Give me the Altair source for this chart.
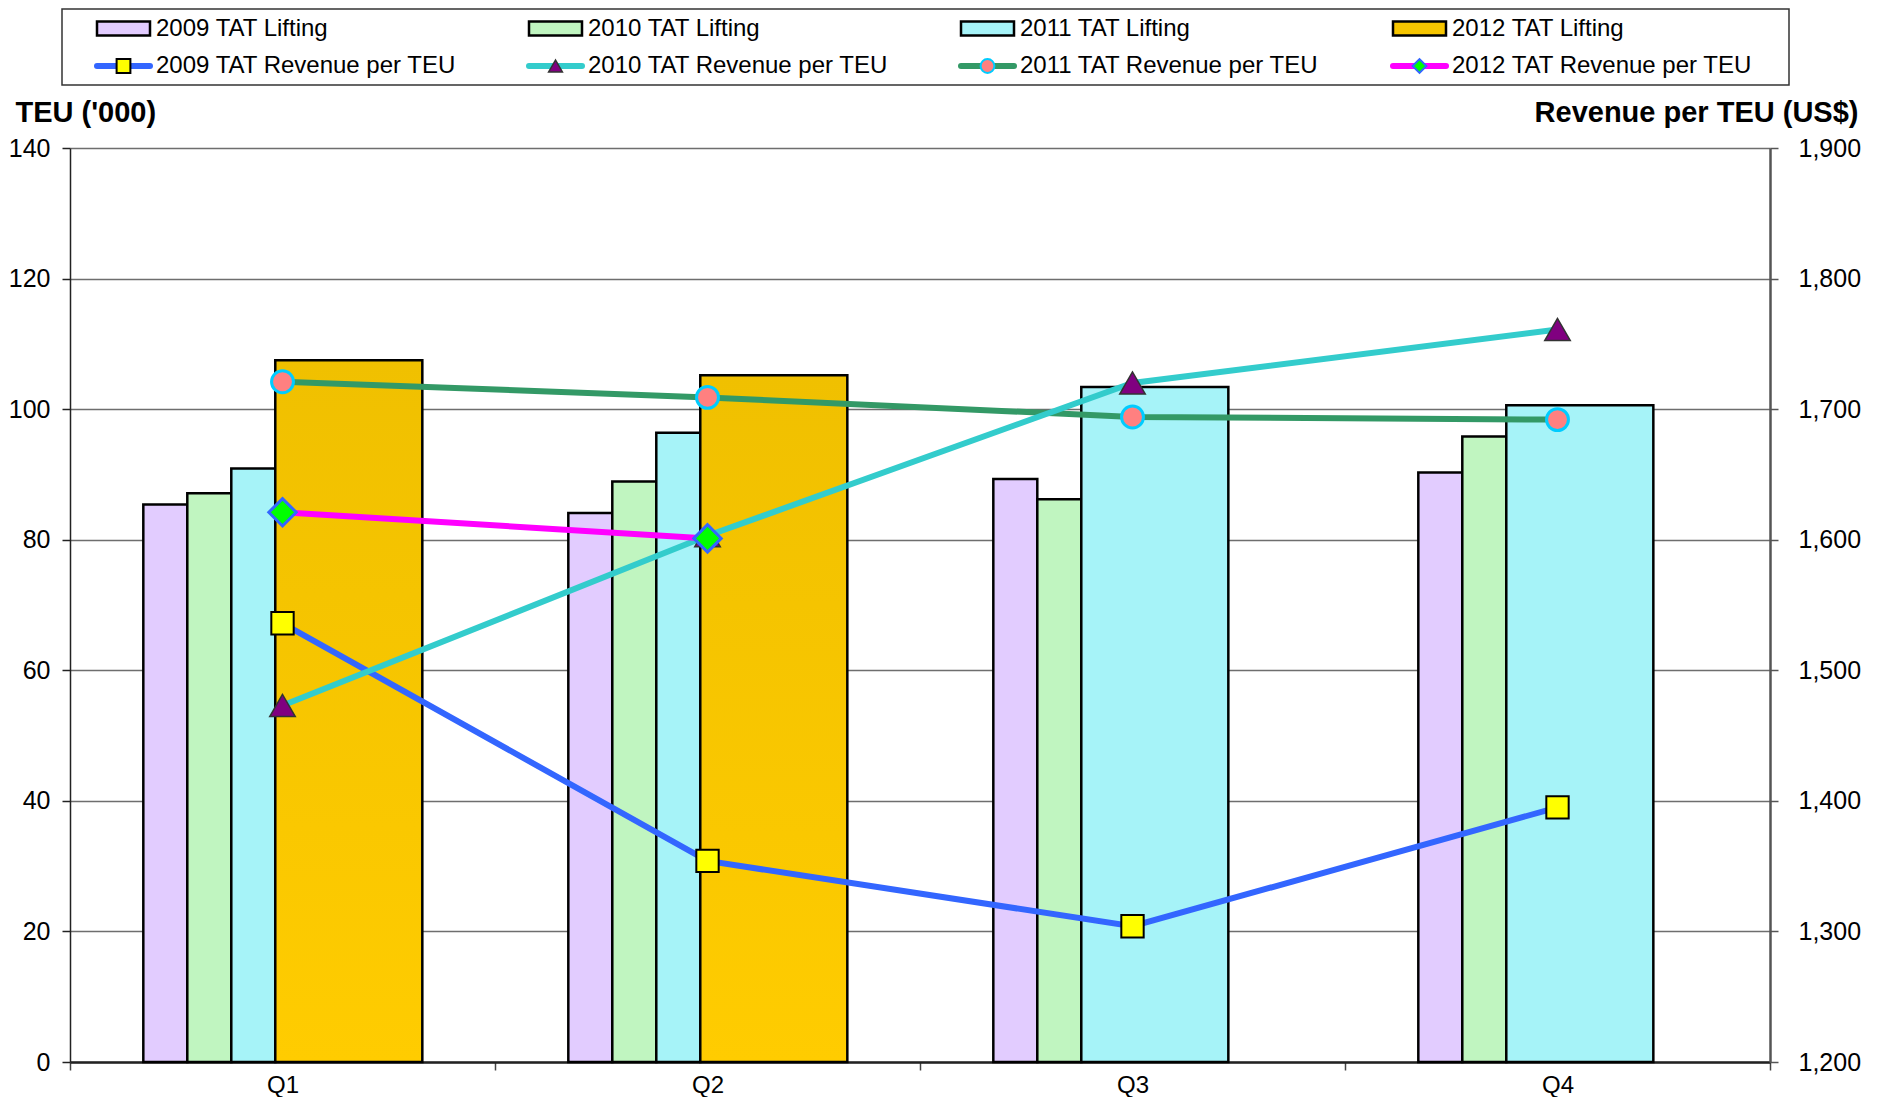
import json
import altair as alt
import pandas as pd

# ---------------- data ----------------
quarters = ["Q1", "Q2", "Q3", "Q4"]
years = ["2009", "2010", "2011", "2012"]

lifting_2009 = [85.4, 84.1, 89.3, 90.3]
lifting_2010 = [87.1, 88.9, 86.2, 95.8]
lifting_2011 = [90.9, 96.4, 103.4, 100.6]
lifting_2012 = [107.5, 105.2, None, None]

revenue_2009 = [1536, 1354, 1304, 1395]
revenue_2010 = [1473, 1603, 1720, 1761]
revenue_2011 = [1721, 1709, 1694, 1692]
revenue_2012 = [1621, 1601, None, None]

lifting = {"2009": lifting_2009, "2010": lifting_2010, "2011": lifting_2011, "2012": lifting_2012}
revenue = {"2009": revenue_2009, "2010": revenue_2010, "2011": revenue_2011, "2012": revenue_2012}

bar_rows = []
for qi, q in enumerate(quarters):
    present = [yi for yi, y in enumerate(years) if lifting[y][qi] is not None]
    for yi in present:
        bar_rows.append({"quarter": q, "q": qi, "series": years[yi], "slot": yi,
                         "last": yi == present[-1], "value": lifting[years[yi]][qi]})
bars_df = pd.DataFrame(bar_rows)

rev_rows = []
for y in years:
    for qi, q in enumerate(quarters):
        if revenue[y][qi] is not None:
            rev_rows.append({"quarter": q, "q": qi, "series": y, "rev": revenue[y][qi]})
rev_df = pd.DataFrame(rev_rows)

leg_rows = []
for i, y in enumerate(years):
    leg_rows.append({"label": f"{y} TAT Lifting", "col": i, "row": 0, "series": y, "kind": "bar"})
    leg_rows.append({"label": f"{y} TAT Revenue per TEU", "col": i, "row": 1, "series": y, "kind": "line"})
leg_df = pd.DataFrame(leg_rows)

# ---------------- styles / layout ----------------
FONT = "Liberation Sans"
W, H = 1700, 914
GROUP_START, NARROW, WIDE = 0.1725, 0.1035, 0.346

BAR_FILLS = ["#E2CCFF", "#C0F5C0", "#A6F3F8"]
GOLD = alt.Gradient(gradient="linear",
                    stops=[alt.GradientStop(color="#F0C000", offset=0),
                           alt.GradientStop(color="#FFCC00", offset=1)],
                    x1=0, x2=0, y1=0, y2=1)
LINE_COLORS = {"2009": "#3366FF", "2010": "#33CCCC", "2011": "#339966", "2012": "#FF00FF"}
MARKERS = {
    "2009": dict(shape="square", fill="#FFFF00", stroke="#000000", strokeWidth=2, size=500),
    "2010": dict(shape="triangle-up", fill="#800080", stroke="#333333", strokeWidth=1.5, size=650),
    "2011": dict(shape="circle", fill="#FF8080", stroke="#00CCFF", strokeWidth=3, size=480),
    "2012": dict(shape="diamond", fill="#00FF00", stroke="#3366FF", strokeWidth=3, size=750),
}
DRAW_ORDER = ["2009", "2011", "2010", "2012"]

x_scale = alt.Scale(domain=[0, 4], nice=False, zero=False)
y_left = alt.Scale(domain=[0, 140], nice=False)
y_right = alt.Scale(domain=[1200, 1900], nice=False, zero=False)

x_axis = alt.Axis(
    values=[i / 2 for i in range(9)],
    labelExpr=f"datum.value % 1 ? {json.dumps(quarters)}[floor(datum.value)] : ''",
    tickColor={"condition": {"test": "datum.value % 1 != 0", "value": "transparent"}, "value": "#444444"},
    tickSize=8, tickWidth=1.5, labelFontSize=24, labelPadding=3, labelOverlap=False,
    labelFlush=False, grid=False, title=None, domainColor="#222222", domainWidth=2.5,
)
left_axis = alt.Axis(
    values=list(range(0, 141, 20)), title="TEU ('000)", titleAngle=0, titleAlign="left",
    titleBaseline="middle", titleX=-55, titleY=-36, titleFontSize=29, titleFontWeight="bold",
    labelFontSize=25, labelPadding=12, tickSize=8, tickColor="#222222", tickWidth=1.5,
    domainColor="#222222", domainWidth=1.5, grid=True, gridColor="#6E6E6E", gridWidth=1.5,
)
right_axis = alt.Axis(
    orient="right", values=list(range(1200, 1901, 100)), labelExpr="format(datum.value, ',')",
    title="Revenue per TEU (US$)",
    titleAngle=0, titleAlign="right", titleBaseline="middle", titleX=88, titleY=-36,
    titleFontSize=29, titleFontWeight="bold", labelFontSize=25, labelPadding=20, tickSize=8,
    tickColor="#555555", tickWidth=1.5, domainColor="#555555", domainWidth=2.5, grid=False,
)

# ---------------- main chart ----------------
bars_base = alt.Chart(bars_df).transform_calculate(
    x0=f"datum.q + {GROUP_START} + datum.slot * {NARROW}"
).transform_calculate(
    x1=f"datum.x0 + (datum.last ? {WIDE} : {NARROW})"
)
bars_pat = bars_base.transform_filter("datum.series != '2012'").mark_bar(
    stroke="black", strokeWidth=2.5
).encode(
    x=alt.X("x0:Q", scale=x_scale, axis=x_axis),
    x2="x1:Q",
    y=alt.Y("value:Q", scale=y_left, axis=left_axis),
    y2=alt.datum(0),
    fill=alt.Fill("series:N", scale=alt.Scale(domain=years[:3], range=BAR_FILLS), legend=None),
)
bars_gold = bars_base.transform_filter("datum.series == '2012'").mark_bar(
    fill=GOLD, stroke="black", strokeWidth=2.5
).encode(
    x=alt.X("x0:Q", scale=x_scale, axis=x_axis),
    x2="x1:Q",
    y=alt.Y("value:Q", scale=y_left, axis=left_axis),
    y2=alt.datum(0),
)
left_layer = alt.layer(bars_pat, bars_gold)

rev_base = alt.Chart(rev_df).transform_calculate(xc="datum.q + 0.5")
line_layers = []
for y in DRAW_ORDER:
    sel = rev_base.transform_filter(f"datum.series == '{y}'")
    enc = dict(x=alt.X("xc:Q", scale=x_scale, axis=x_axis),
               y=alt.Y("rev:Q", scale=y_right, axis=right_axis))
    line_layers.append(sel.mark_line(color=LINE_COLORS[y], strokeWidth=6).encode(**enc))
    line_layers.append(sel.mark_point(filled=True, opacity=1, **MARKERS[y]).encode(**enc))
right_layer = alt.layer(*line_layers)

main = alt.layer(left_layer, right_layer).resolve_scale(y="independent").properties(width=W, height=H)

# ---------------- legend chart ----------------
LEG_W, LEG_H = W, 76
leg_x = alt.Scale(domain=[0, 3], range=[27, 27 + 3 * 432])
leg_y = alt.Scale(domain=[0, 1], range=[19.5, 57])
SYM_W, SYM_H = 53 / 432, 7 / 37.5

box = alt.Chart(pd.DataFrame({"box": [0]})).mark_rect(
    fill="white", stroke="#333333", strokeWidth=1.5
).encode(x=alt.value(-8), x2=alt.value(W + 19), y=alt.value(0), y2=alt.value(LEG_H))

leg_base = alt.Chart(leg_df).transform_calculate(
    xe=f"datum.col + {SYM_W}", xm=f"datum.col + {SYM_W / 2}",
    yt=f"datum.row - {SYM_H}", yb=f"datum.row + {SYM_H}",
)
leg_bars = leg_base.transform_filter("datum.kind == 'bar'").mark_bar(
    stroke="black", strokeWidth=2.5
).encode(
    x=alt.X("col:Q", scale=leg_x, axis=None), x2="xe:Q",
    y=alt.Y("yt:Q", scale=leg_y, axis=None), y2="yb:Q",
    fill=alt.Fill("series:N", scale=alt.Scale(domain=years, range=BAR_FILLS + ["#F6C500"]), legend=None),
)
leg_lines = leg_base.transform_filter("datum.kind == 'line'").mark_rule(
    strokeWidth=6, strokeCap="round"
).encode(
    x=alt.X("col:Q", scale=leg_x, axis=None), x2="xe:Q",
    y=alt.Y("row:Q", scale=leg_y, axis=None),
    stroke=alt.Stroke("series:N", scale=alt.Scale(domain=years, range=[LINE_COLORS[y] for y in years]), legend=None),
)
leg_pts = []
for y in years:
    m = dict(MARKERS[y])
    m["size"] = 190
    m["strokeWidth"] = min(m["strokeWidth"], 2)
    leg_pts.append(leg_base.transform_filter(f"datum.kind == 'line' && datum.series == '{y}'").mark_point(
        filled=True, opacity=1, **m
    ).encode(x=alt.X("xm:Q", scale=leg_x, axis=None), y=alt.Y("row:Q", scale=leg_y, axis=None)))
leg_text = leg_base.mark_text(align="left", baseline="middle", dx=59, fontSize=24, color="black").encode(
    x=alt.X("col:Q", scale=leg_x, axis=None), y=alt.Y("row:Q", scale=leg_y, axis=None), text="label:N"
)
legend_chart = alt.layer(box, leg_bars, leg_lines, *leg_pts, leg_text).properties(width=LEG_W, height=LEG_H)

chart = alt.vconcat(legend_chart, main, spacing=63, bounds="flush").resolve_scale(
    x="independent", y="independent", fill="independent", stroke="independent"
).properties(padding=0).configure(font=FONT).configure_view(stroke=None).configure_axis(
    labelFont=FONT, titleFont=FONT, labelColor="black", titleColor="black"
)

chart.save("out.html", embed_options={"renderer": "svg", "actions": False})
